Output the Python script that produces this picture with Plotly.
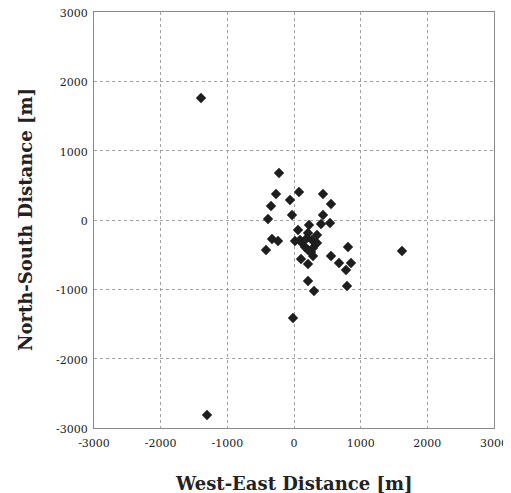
import plotly.graph_objects as go

x_we = [-225, -270, 75, 435, -60, -345, 555, -30, 435, -390, 225, 405, 540, 60,
        -330, -240, -420, 15, 120, 165, 270, 345, 285, 345, 210, 285, 105, 555,
        210, 675, 855, 780, 810, 1620, 210, 795, 300, -15, -1395, -1305,
        210, 90, 195, 255]
y_ns = [678, 375, 404, 375, 288, 202, 231, 72, 72, 14, -72, -58, -43, -144,
        -274, -303, -433, -303, -332, -389, -288, -216, -404, -332, -433, -519, -562, -519,
        -634, -620, -620, -721, -389, -447, -880, -952, -1024, -1413, 1759, -2812,
        -187, -288, -260, -461]

tick_vals = [-3000, -2000, -1000, 0, 1000, 2000, 3000]
tick_text = ["-3000", "-2000", "-1000", "0", "1000", "2000", "3000"]
x_title = "West-East Distance [m]"
y_title = "North-South Distance [m]"

fig = go.Figure(go.Scatter(
    x=x_we, y=y_ns, mode="markers",
    marker=dict(symbol="diamond", size=8, color="#1e1e1e"),
))

axis_common = dict(
    range=[-3000, 3000], tickvals=tick_vals, ticktext=tick_text,
    showgrid=True, gridcolor="#a0a0a0", griddash="dot", gridwidth=1,
    showline=True, linecolor="#8a8a8a", linewidth=1, mirror=True,
    zeroline=False, ticks="", automargin=False, ticklabeloverflow="allow",
    tickfont=dict(family="DejaVu Serif", size=11, color="#222"),
)

title_font = dict(family="DejaVu Serif", size=18, color="#222", weight="bold")

# page body has an 8px default margin, so the figure is 8px smaller
fig.update_layout(
    width=503, height=485,
    margin=dict(l=86, r=17, t=4, b=65),
    paper_bgcolor="white", plot_bgcolor="white",
    showlegend=False,
    xaxis=dict(**axis_common, ticklabelstandoff=5),
    yaxis=dict(**axis_common, ticklabelshift=1, ticklabelstandoff=3),
    annotations=[
        dict(text=x_title, xref="paper", yref="paper", x=0.5, y=0,
             xanchor="center", yanchor="middle", yshift=-55, showarrow=False,
             font=title_font),
        dict(text=y_title, xref="paper", yref="paper", x=0, y=0.5,
             xanchor="center", yanchor="middle", xshift=-69, showarrow=False,
             textangle=-90, font=title_font),
    ],
)

fig.write_html("out.html")
